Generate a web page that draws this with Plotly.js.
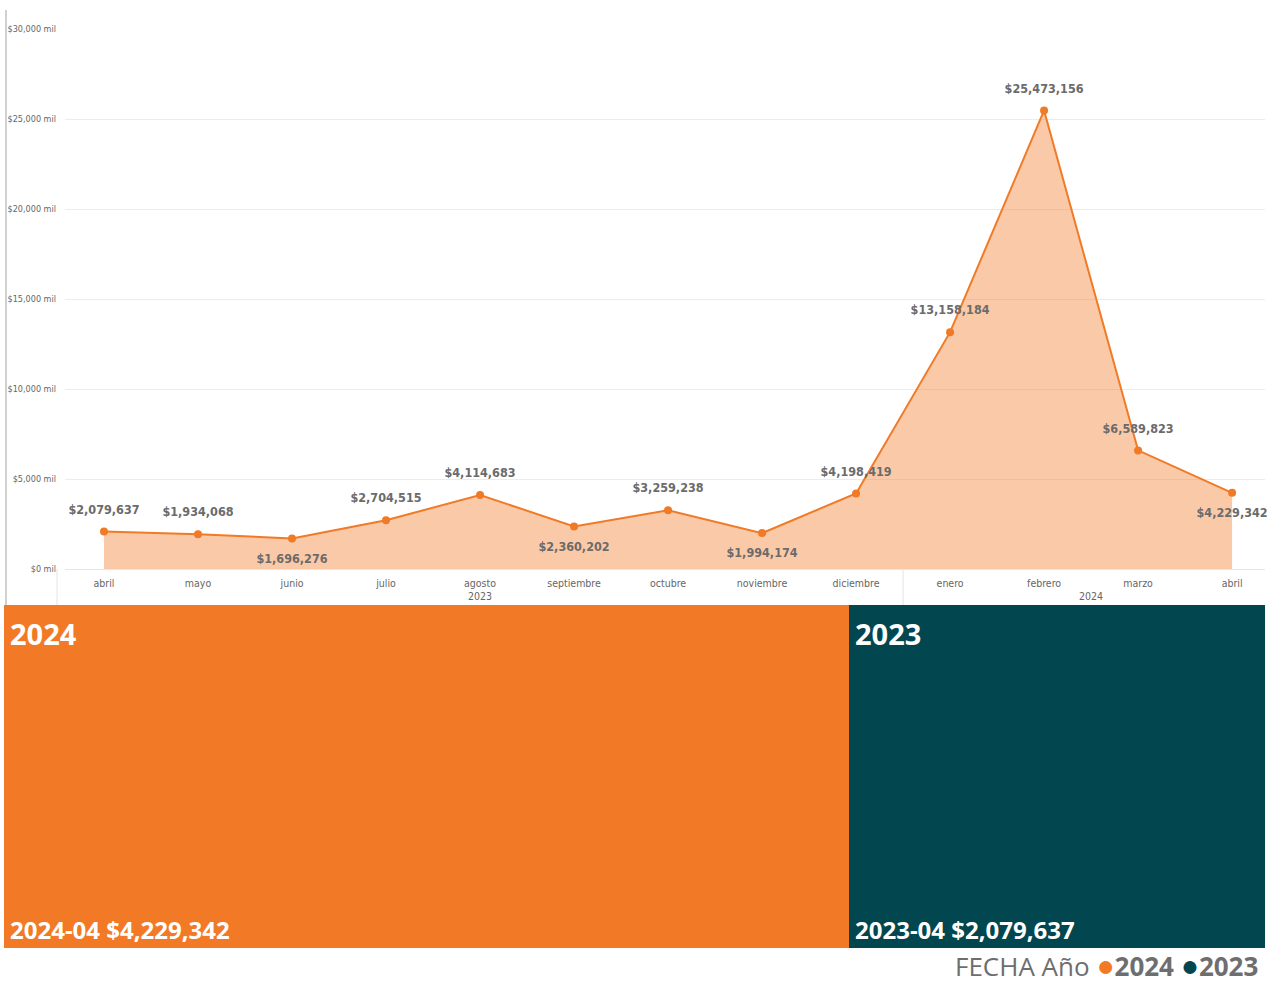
<!DOCTYPE html>
<html>
<head>
<meta charset="utf-8">
<script src="https://cdn.plot.ly/plotly-3.0.1.min.js"></script>
<style>
html,body{margin:0;padding:0;background:#fff;}
#chart{width:1270px;height:987px;}
</style>
</head>
<body>
<div id="chart"></div>
<script>
// ---- data ----
const years  = ['2023','2023','2023','2023','2023','2023','2023','2023','2023','2024','2024','2024','2024'];
const months = ['abril','mayo','junio','julio','agosto','septiembre','octubre','noviembre','diciembre','enero','febrero','marzo','abril'];
const sales  = [2079637,1934068,1696276,2704515,4114683,2360202,3259238,1994174,4198419,13158184,25473156,6589823,4229342];
const labelPos = ['top center','top center','bottom center','top center','top center','bottom center','top center','bottom center','top center','top center','top center','top center','bottom center'];
const yTickVals = [0,5000000,10000000,15000000,20000000,25000000,30000000];
const yTickText = ['$0 mil','$5,000 mil','$10,000 mil','$15,000 mil','$20,000 mil','$25,000 mil','$30,000 mil'];

const treeYears  = ['2024','2023'];
const treeLabels = ['2024-04','2023-04'];
const treeValues = [4229342,2079637];
const treeColors = ['#F27A26','#02464F'];

const fmt = v => '$' + v.toLocaleString('en-US');

const W = 1270, H = 987;
const px = x => x / W;
const py = y => 1 - y / H;

const idx = months.map((m,i)=>i);
const labelFont = {family:'"DejaVu Sans Condensed","Liberation Sans Narrow","Roboto",sans-serif', size:12.5, color:'#6b6b6b', weight:'bold'};

const traces = [];
traces.push({
  type:'scatter', mode:'lines+markers',
  x:idx, y:sales,
  line:{color:'#F07A26', width:2},
  marker:{color:'#F07A26', size:8},
  fill:'tozeroy', fillcolor:'rgba(242,128,48,0.42)',
  hoverinfo:'skip', showlegend:false,
  xaxis:'x', yaxis:'y'
});
// data labels (offset from the points through an invisible, larger marker)
traces.push({
  type:'scatter', mode:'markers+text',
  x:idx, y:sales,
  marker:{size:22, opacity:0, color:'#F07A26'},
  texttemplate:'$%{y:,.0f}', textposition:labelPos,
  textfont:labelFont, cliponaxis:false,
  hoverinfo:'skip', showlegend:false,
  xaxis:'x', yaxis:'y'
});

// treemap-like proportional blocks via stacked horizontal bars
const total = treeValues.reduce((a,b)=>a+b,0);
treeValues.forEach((v,i)=>{
  traces.push({
    type:'bar', orientation:'h', x:[v], y:['t'],
    marker:{color:treeColors[i], line:{width:0}},
    hoverinfo:'skip', showlegend:false, width:1,
    xaxis:'x2', yaxis:'y2'
  });
});

const annotations = [];
const shapes = [
  {type:'line', xref:'paper', yref:'paper', x0:px(6), x1:px(6), y0:py(10), y1:py(605), line:{color:'#d0d0d0', width:2}},
  {type:'line', xref:'paper', yref:'paper', x0:px(57), x1:px(57), y0:py(569), y1:py(605), line:{color:'#e3e3e3', width:1}}
];

// year group labels and dividers on the category axis
const groups = [];
years.forEach((y,i)=>{
  if (!groups.length || groups[groups.length-1].year !== y) groups.push({year:y, start:i, end:i});
  else groups[groups.length-1].end = i;
});
groups.forEach((g,gi)=>{
  annotations.push({
    xref:'x', yref:'paper', x:(g.start+g.end)/2, y:py(596), yanchor:'middle', xanchor:'center',
    text:g.year, showarrow:false,
    font:{family:'"DejaVu Sans Condensed","Liberation Sans Narrow","Roboto",sans-serif', size:10.5, color:'#666666'}
  });
  if (gi > 0) shapes.push({type:'line', xref:'x', yref:'paper', x0:g.start-0.5, x1:g.start-0.5, y0:py(569), y1:py(605), line:{color:'#e3e3e3', width:1}});
});

let acc = 0;
treeValues.forEach((v,i)=>{
  annotations.push({
    xref:'x2', yref:'paper', x:acc, y:py(612), xanchor:'left', yanchor:'top', xshift:4,
    text:'<b>'+treeYears[i]+'</b>', showarrow:false,
    font:{family:'"Open Sans","Noto Sans",sans-serif', size:29, color:'#ffffff'}
  });
  annotations.push({
    xref:'x2', yref:'paper', x:acc, y:py(948), xanchor:'left', yanchor:'bottom', xshift:4, yshift:0,
    text:'<b>'+treeLabels[i]+' '+fmt(v)+'</b>', showarrow:false,
    font:{family:'"Open Sans","Noto Sans",sans-serif', size:24, color:'#ffffff'}
  });
  acc += v;
});

annotations.push({
  xref:'paper', yref:'paper', x:px(1260), y:0, xanchor:'right', yanchor:'bottom',
  showarrow:false,
  text:'FECHA Año <span style="color:'+treeColors[0]+';font-size:30px">●</span><b>'+treeYears[0]+'</b> <span style="color:'+treeColors[1]+';font-size:30px">●</span><b>'+treeYears[1]+'</b>',
  font:{family:'"Open Sans","Noto Sans",sans-serif', size:26, color:'#6e6e6e'}
});

const layout = {
  width:W, height:H,
  margin:{l:0,r:0,t:0,b:0},
  paper_bgcolor:'#ffffff', plot_bgcolor:'#ffffff',
  showlegend:false,
  barmode:'stack', bargap:0,
  xaxis:{
    domain:[px(65), px(1265)],
    range:[-0.415, 12.35],
    tickvals:idx, ticktext:months,
    showgrid:false, zeroline:false, showline:false,
    ticks:'', ticklabelstandoff:6,
    tickfont:{family:'"DejaVu Sans Condensed","Liberation Sans Narrow","Roboto",sans-serif', size:10.5, color:'#666666'},
    fixedrange:true
  },
  yaxis:{
    domain:[py(569), py(29)], range:[0, 30000000],
    tickvals:yTickVals, ticktext:yTickText,
    showgrid:true, gridcolor:'#ececec', gridwidth:1,
    zeroline:true, zerolinecolor:'#e6e6e6', zerolinewidth:1,
    showline:false, ticks:'', ticklabelstandoff:8,
    tickfont:{family:'"Liberation Sans Narrow","DejaVu Sans Condensed",sans-serif', size:9, color:'#666666'},
    fixedrange:true
  },
  xaxis2:{
    domain:[px(4), px(1265)], range:[0,total], anchor:'y2',
    visible:false, fixedrange:true
  },
  yaxis2:{
    domain:[py(948), py(605)], range:[-0.5,0.5], anchor:'x2',
    visible:false, fixedrange:true
  },
  annotations:annotations,
  shapes:shapes
};

Plotly.newPlot('chart', traces, layout, {displayModeBar:false, staticPlot:true});
</script>
</body>
</html>
